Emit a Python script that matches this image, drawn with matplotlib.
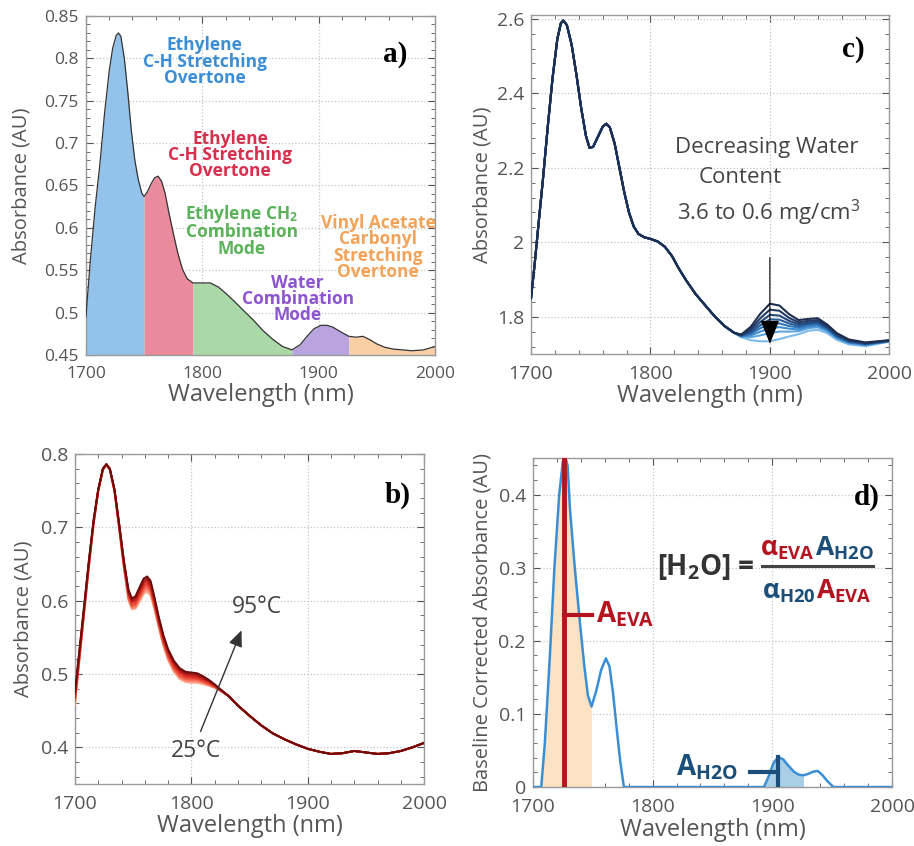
import numpy as np
import matplotlib
matplotlib.use('Agg')
import matplotlib.pyplot as plt
from matplotlib.ticker import MultipleLocator, FuncFormatter
from matplotlib.colors import LinearSegmentedColormap
from matplotlib.offsetbox import TextArea, HPacker, AnnotationBbox

plt.rcParams['font.family'] = ['Open Sans', 'DejaVu Sans']
plt.rcParams['mathtext.fontset'] = 'custom'
plt.rcParams['mathtext.rm'] = 'Open Sans'
plt.rcParams['mathtext.bf'] = 'Open Sans:bold'
plt.rcParams['mathtext.it'] = 'Open Sans:italic'

# ---------------- a) EVA spectrum with band assignment ----------------
wl_a = [1700, 1704, 1708, 1712, 1716, 1720, 1723, 1726, 1728, 1730, 1733, 1736,
        1739, 1742, 1745, 1748, 1750, 1753, 1756, 1759, 1762, 1765, 1768, 1771,
        1775, 1779, 1783, 1787, 1792, 1800, 1807, 1814, 1820, 1827, 1835, 1844,
        1852, 1861, 1869, 1877, 1884, 1890, 1896, 1902, 1907, 1912, 1918, 1926,
        1932, 1938, 1944, 1950, 1957, 1964, 1972, 1980, 1990, 2000]
abs_a = [0.495, 0.565, 0.625, 0.675, 0.735, 0.785, 0.812, 0.827, 0.830, 0.826, 0.800, 0.760,
         0.715, 0.680, 0.657, 0.641, 0.637, 0.643, 0.652, 0.659, 0.661, 0.655, 0.641, 0.620,
         0.594, 0.570, 0.551, 0.540, 0.535, 0.535, 0.535, 0.530, 0.523, 0.514, 0.503, 0.491,
         0.479, 0.468, 0.460, 0.456, 0.462, 0.472, 0.481, 0.485, 0.485, 0.483, 0.478, 0.472,
         0.471, 0.472, 0.468, 0.463, 0.459, 0.457, 0.456, 0.455, 0.456, 0.460]
band_edges_a = [1700, 1750, 1792, 1877, 1926, 2000]
band_fill_a = ['#93c2ea', '#e98b9c', '#aad9a7', '#baa4df', '#fbcfa6']
band_names_a = ['Ethylene\nC-H Stretching\nOvertone',
                'Ethylene\nC-H Stretching\nOvertone',
                'Ethylene CH$_\\mathbf{2}$\nCombination\nMode',
                'Water\nCombination\nMode',
                'Vinyl Acetate\nCarbonyl\nStretching\nOvertone']
band_text_color_a = ['#3b8ed6', '#d6304f', '#5bb25a', '#8c55cf', '#f2a35a']
band_text_pos_a = [(1802, 0.796), (1824, 0.686), (1834, 0.597), (1882, 0.516), (1951, 0.577)]

# ---------------- b) temperature series ----------------
temps_b = [25, 35, 45, 55, 65, 75, 85, 95]
wl_b_head = [1700, 1704, 1708, 1712, 1716, 1720, 1724, 1727, 1730, 1734, 1738, 1742,
             1746, 1749, 1752, 1756, 1759, 1762, 1765, 1768, 1772, 1776, 1780, 1785,
             1790, 1795, 1800, 1805, 1810, 1815, 1820, 1825]
# one row per wavelength, one column per temperature (25 -> 95 C)
abs_b_head = [
    [.458, .460, .463, .465, .468, .470, .473, .475],
    [.520, .522, .524, .526, .529, .531, .533, .535],
    [.583, .585, .586, .588, .590, .592, .593, .595],
    [.645, .646, .648, .649, .651, .652, .654, .655],
    [.703, .704, .705, .706, .707, .708, .709, .710],
    [.748, .749, .749, .750, .750, .751, .751, .752],
    [.778, .778, .779, .779, .779, .779, .780, .780],
    [.785, .785, .785, .785, .786, .786, .786, .786],
    [.778, .778, .779, .779, .779, .779, .780, .780],
    [.748, .749, .749, .750, .750, .751, .751, .752],
    [.697, .698, .699, .700, .702, .703, .704, .705],
    [.645, .646, .648, .649, .651, .652, .654, .655],
    [.600, .602, .604, .606, .609, .611, .613, .615],
    [.588, .590, .592, .594, .597, .599, .601, .603],
    [.589, .591, .594, .596, .599, .601, .604, .606],
    [.600, .603, .606, .609, .611, .614, .617, .620],
    [.609, .612, .615, .618, .621, .624, .627, .630],
    [.612, .615, .618, .621, .624, .627, .630, .633],
    [.607, .610, .613, .616, .618, .621, .624, .627],
    [.590, .592, .595, .597, .600, .602, .605, .607],
    [.563, .565, .567, .569, .572, .574, .576, .578],
    [.538, .540, .542, .544, .547, .549, .551, .553],
    [.519, .521, .523, .525, .528, .530, .532, .534],
    [.503, .505, .507, .509, .512, .514, .516, .518],
    [.493, .495, .497, .499, .502, .504, .506, .508],
    [.489, .491, .493, .495, .497, .499, .501, .503],
    [.488, .490, .492, .494, .496, .498, .500, .502],
    [.488, .490, .492, .494, .495, .497, .499, .501],
    [.486, .488, .489, .491, .492, .494, .495, .497],
    [.484, .485, .486, .487, .489, .490, .491, .492],
    [.481, .482, .482, .483, .484, .485, .485, .486],
    [.477, .477, .478, .478, .478, .478, .479, .479],
]
wl_b_tail = [1832, 1840, 1850, 1860, 1870, 1880, 1890, 1900, 1910, 1920, 1930, 1940,
             1950, 1960, 1970, 1980, 1990, 2000]
abs_b_tail = [0.470, 0.457, 0.443, 0.430, 0.419, 0.411, 0.404, 0.398, 0.394, 0.391, 0.392, 0.395,
              0.393, 0.391, 0.392, 0.395, 0.400, 0.406]

# ---------------- c) water content series ----------------
wl_c_head = [1700, 1703, 1706, 1710, 1714, 1718, 1722, 1725, 1727, 1730, 1734, 1738,
             1742, 1746, 1749, 1752, 1756, 1760, 1763, 1766, 1770, 1774, 1778, 1782,
             1786, 1790, 1795, 1800, 1806, 1812, 1818, 1824, 1830, 1838, 1846, 1854,
             1862, 1870]
abs_c_head = [1.850, 1.940, 2.040, 2.170, 2.310, 2.440, 2.545, 2.588, 2.595, 2.583, 2.530, 2.450,
              2.360, 2.285, 2.253, 2.256, 2.283, 2.310, 2.318, 2.308, 2.265, 2.200, 2.135, 2.080,
              2.042, 2.022, 2.013, 2.009, 2.002, 1.988, 1.963, 1.928, 1.897, 1.860, 1.830, 1.800,
              1.775, 1.757]
water_c = ['3.6', '', '', '', '', '', '', '0.6']
wl_c_band = [1876, 1884, 1892, 1900, 1908, 1916, 1924, 1932, 1940, 1948, 1956, 1966, 1980, 2000]
# one row per wavelength, one column per sample (3.6 -> 0.6 mg/cm3)
abs_c_band = [
    [1.752, 1.751, 1.750, 1.749, 1.748, 1.747, 1.747, 1.745],
    [1.773, 1.767, 1.762, 1.758, 1.754, 1.750, 1.745, 1.737],
    [1.808, 1.796, 1.786, 1.777, 1.769, 1.760, 1.750, 1.734],
    [1.835, 1.819, 1.805, 1.793, 1.781, 1.769, 1.756, 1.734],
    [1.830, 1.816, 1.803, 1.792, 1.782, 1.772, 1.760, 1.740],
    [1.807, 1.797, 1.789, 1.782, 1.775, 1.768, 1.760, 1.747],
    [1.791, 1.785, 1.780, 1.775, 1.771, 1.766, 1.761, 1.753],
    [1.794, 1.789, 1.784, 1.781, 1.777, 1.773, 1.769, 1.762],
    [1.796, 1.791, 1.787, 1.783, 1.780, 1.776, 1.772, 1.765],
    [1.779, 1.775, 1.772, 1.769, 1.767, 1.764, 1.761, 1.756],
    [1.756, 1.753, 1.751, 1.748, 1.746, 1.744, 1.742, 1.738],
    [1.739, 1.737, 1.735, 1.734, 1.732, 1.731, 1.729, 1.726],
    [1.731, 1.729, 1.728, 1.727, 1.726, 1.725, 1.723, 1.721],
    [1.737, 1.736, 1.736, 1.735, 1.735, 1.734, 1.734, 1.733],
]

# ---------------- d) baseline corrected spectrum ----------------
wl_d = [1700, 1707, 1710, 1714, 1718, 1722, 1725, 1727, 1729, 1731, 1735, 1739,
        1743, 1746, 1749, 1753, 1757, 1761, 1764, 1767, 1770, 1773, 1776, 1800,
        1850, 1893, 1897, 1901, 1905, 1909, 1913, 1918, 1922, 1926, 1930, 1934,
        1938, 1942, 1946, 1951, 2000]
abs_d = [0, 0, 0.060, 0.173, 0.300, 0.400, 0.445, 0.452, 0.440, 0.380, 0.300, 0.230,
         0.165, 0.125, 0.110, 0.132, 0.160, 0.176, 0.165, 0.128, 0.080, 0.035, 0, 0,
         0, 0, 0.015, 0.033, 0.041, 0.038, 0.030, 0.021, 0.017, 0.016, 0.018, 0.021,
         0.022, 0.016, 0.008, 0, 0]
eva_band = (1707, 1749)
h2o_band = (1893, 1926)
eva_peak = (1726, 0.45)
eva_marker = (1749, 0.235)
h2o_peak = (1905, 0.041)
h2o_marker = (1881, 0.021)

RED = '#b3141f'
BLUE = '#1b4e78'
TXT = '#555555'


def style_axes(ax, ylim, ymajor, yminor, ylabel, ypad, tsize):
    ax.set_xlim(1700, 2000)
    ax.set_ylim(*ylim)
    ax.xaxis.set_major_locator(MultipleLocator(100))
    ax.xaxis.set_minor_locator(MultipleLocator(20))
    ax.yaxis.set_major_locator(MultipleLocator(ymajor))
    ax.yaxis.set_minor_locator(MultipleLocator(yminor))
    ax.yaxis.set_major_formatter(FuncFormatter(lambda v, p: '%g' % round(v, 3)))
    ax.tick_params(which='both', direction='in', top=True, right=True,
                   color='#555555', labelcolor=TXT, labelsize=tsize)
    ax.tick_params(which='major', length=5, width=0.8)
    ax.tick_params(which='minor', length=3, width=0.6)
    ax.tick_params(axis='x', pad=8)
    ax.tick_params(axis='y', pad=5)
    ax.grid(True, which='major', ls=':', color='#c4c4c4', lw=0.9)
    ax.set_axisbelow(True)
    for s in ax.spines.values():
        s.set_color('#9a9a9a')
        s.set_linewidth(1.0)
    ax.set_xlabel('Wavelength (nm)', fontsize=17, color=TXT, labelpad=1)
    ax.set_ylabel(ylabel, fontsize=14.5, color=TXT, labelpad=ypad)


def panel_tag(ax, tag, x, y):
    ax.text(x, y, tag, transform=ax.transAxes, ha='center', va='center',
            fontsize=21, fontweight='bold', family='Liberation Serif', color='black')


fig = plt.figure(figsize=(9.14, 8.46), dpi=100)
ax_a = fig.add_axes([0.094, 0.5804, 0.382, 0.4007])
ax_c = fig.add_axes([0.581, 0.5816, 0.392, 0.4007])
ax_b = fig.add_axes([0.082, 0.0733, 0.382, 0.3901])
ax_d = fig.add_axes([0.583, 0.0697, 0.393, 0.3889])

# ---- a)
style_axes(ax_a, (0.45, 0.85), 0.05, 0.01, 'Absorbance (AU)', 9, 12.5)
wa = np.array(wl_a)
aa = np.array(abs_a)
for i in range(len(band_fill_a)):
    lo, hi = band_edges_a[i], band_edges_a[i + 1]
    m = (wa >= lo) & (wa <= hi)
    ax_a.fill_between(wa, 0.45, aa, where=m, color=band_fill_a[i], lw=0, zorder=2)
ax_a.plot(wa, aa, color='#333333', lw=0.9, zorder=3)
for name, col, (tx, ty) in zip(band_names_a, band_text_color_a, band_text_pos_a):
    ax_a.text(tx, ty, name, color=col, fontsize=12.5, fontweight='bold', ha='center',
              va='center', linespacing=0.88, zorder=4)
panel_tag(ax_a, 'a)', 0.885, 0.885)

# ---- b)
style_axes(ax_b, (0.35, 0.8), 0.1, 0.02, 'Absorbance (AU)', 5, 14)
cmap_b = LinearSegmentedColormap.from_list('temp', ['#fcaa90', '#f2553e', '#d4211c', '#6e0c0c'])
head_b = np.array(abs_b_head).T
for k, t in enumerate(temps_b):
    wl = wl_b_head + wl_b_tail
    ab = list(head_b[k]) + abs_b_tail
    ax_b.plot(wl, ab, color=cmap_b(k / (len(temps_b) - 1)), lw=1.4, zorder=3)
ax_b.annotate('', xy=(1844, 0.563), xytext=(1807, 0.418),
              arrowprops=dict(arrowstyle='-|>,head_length=0.7,head_width=0.3',
                              color='#333333', lw=1.0, mutation_scale=14), zorder=5)
ax_b.text(1856, 0.591, '95°C', fontsize=16.5, color='#444444', ha='center', va='center')
ax_b.text(1804, 0.395, '25°C', fontsize=16.5, color='#444444', ha='center', va='center')
panel_tag(ax_b, 'b)', 0.923, 0.876)

# ---- c)
style_axes(ax_c, (1.70, 2.61), 0.2, 0.04, 'Absorbance (AU)', 3, 14)
cmap_c = LinearSegmentedColormap.from_list('water', ['#1f2e4e', '#234c85', '#3486cb', '#7bbaea'])
band_c = np.array(abs_c_band).T
n_c = band_c.shape[0]
for k in reversed(range(n_c)):
    wl = wl_c_head + wl_c_band
    ab = abs_c_head + list(band_c[k])
    ax_c.plot(wl, ab, color=cmap_c(k / (n_c - 1)), lw=1.5, zorder=3)
ax_c.annotate('', xy=(1900, 1.72), xytext=(1900, 1.966),
              arrowprops=dict(arrowstyle='-|>,head_length=0.75,head_width=0.3',
                              color='black', lw=0.8, mutation_scale=20), zorder=5)
ax_c.text(1897, 2.255, 'Decreasing Water', fontsize=16, color='#444444', ha='center', va='center')
ax_c.text(1875, 2.175, 'Content', fontsize=16, color='#444444', ha='center', va='center')
ax_c.text(1899, 2.078, '%s to %s mg/cm$^3$' % (water_c[0], water_c[-1]), fontsize=16,
          color='#444444', ha='center', va='center')
panel_tag(ax_c, 'c)', 0.90, 0.897)

# ---- d)
style_axes(ax_d, (0, 0.45), 0.1, 0.02, 'Baseline Corrected Absorbance (AU)', 4, 14)
wd = np.array(wl_d)
ad = np.array(abs_d)
ax_d.fill_between(wd, 0, ad, where=(wd >= eva_band[0]) & (wd <= eva_band[1]),
                  color='#fde3c4', lw=0, zorder=2)
ax_d.fill_between(wd, 0, ad, where=(wd >= h2o_band[0]) & (wd <= h2o_band[1]),
                  color='#a9cfe6', lw=0, zorder=2)
ax_d.plot(wd, ad, color='#3a8fd4', lw=1.8, zorder=3)
ax_d.plot([eva_peak[0], eva_peak[0]], [0, eva_peak[1]], color=RED, lw=3.5, zorder=4)
ax_d.plot([eva_peak[0], eva_marker[0]], [eva_marker[1], eva_marker[1]], color=RED, lw=3, zorder=4)
ax_d.plot([h2o_peak[0], h2o_peak[0]], [0, h2o_peak[1]], color=BLUE, lw=3, zorder=4)
ax_d.plot([h2o_marker[0], h2o_peak[0]], [h2o_marker[1], h2o_marker[1]], color=BLUE, lw=3, zorder=4)
ax_d.text(eva_marker[0] + 4, eva_marker[1], r'$\mathbf{A}_{\mathbf{EVA}}$', color=RED,
          fontsize=20, ha='left', va='center')
ax_d.text(h2o_marker[0] - 10, h2o_marker[1] + 0.005, r'$\mathbf{A}_{\mathbf{H2O}}$', color=BLUE,
          fontsize=20, ha='right', va='center')


def colored_row(parts, size):
    boxes = [TextArea(s, textprops=dict(color=c, fontsize=size)) for s, c in parts]
    return HPacker(children=boxes, align='baseline', pad=0, sep=0)


lhs = TextArea(r'[H$_\mathbf{2}$O] =', textprops=dict(color='#333333', fontsize=20, fontweight='bold'))
ax_d.add_artist(AnnotationBbox(lhs, (0.482, 0.669), xycoords='axes fraction',
                               frameon=False, box_alignment=(0.5, 0.5)))
num = colored_row([(r'$\mathbf{α}_{\mathbf{EVA}}$', RED), (r'$\mathbf{A}_{\mathbf{H2O}}$', BLUE)], 19)
den = colored_row([(r'$\mathbf{α}_{\mathbf{H20}}$', BLUE), (r'$\mathbf{A}_{\mathbf{EVA}}$', RED)], 19)
ax_d.add_artist(AnnotationBbox(num, (0.791, 0.725), xycoords='axes fraction',
                               frameon=False, box_alignment=(0.5, 0.5)))
ax_d.add_artist(AnnotationBbox(den, (0.791, 0.595), xycoords='axes fraction',
                               frameon=False, box_alignment=(0.5, 0.5)))
ax_d.plot([0.638, 0.947], [0.672, 0.672], transform=ax_d.transAxes, color='#444444', lw=2.2)
panel_tag(ax_d, 'd)', 0.93, 0.881)

fig.savefig('out.png', dpi=100)
